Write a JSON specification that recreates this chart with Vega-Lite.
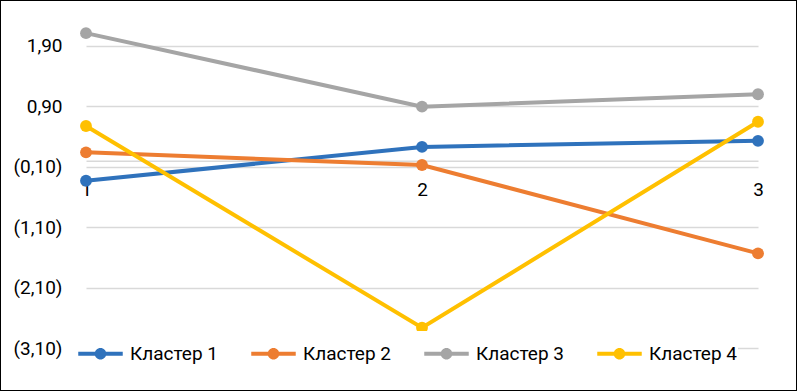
{
  "$schema": "https://vega.github.io/schema/vega-lite/v6.json",
  "width": 797,
  "height": 391,
  "autosize": {"type": "none"},
  "padding": 0,
  "background": "#ffffff",
  "config": {
    "view": {"stroke": "#000000", "strokeWidth": 2},
    "font": "Roboto"
  },
  "data": {
    "values": [
      {"cluster": "Кластер 1", "x": "1", "value": -0.33},
      {"cluster": "Кластер 1", "x": "2", "value": 0.23},
      {"cluster": "Кластер 1", "x": "3", "value": 0.33},
      {"cluster": "Кластер 2", "x": "1", "value": 0.14},
      {"cluster": "Кластер 2", "x": "2", "value": -0.07},
      {"cluster": "Кластер 2", "x": "3", "value": -1.53},
      {"cluster": "Кластер 3", "x": "1", "value": 2.11},
      {"cluster": "Кластер 3", "x": "2", "value": 0.895},
      {"cluster": "Кластер 3", "x": "3", "value": 1.10},
      {"cluster": "Кластер 4", "x": "1", "value": 0.575},
      {"cluster": "Кластер 4", "x": "2", "value": -2.76},
      {"cluster": "Кластер 4", "x": "3", "value": 0.646}
    ]
  },
  "mark": {"type": "line", "strokeWidth": 4, "point": {"size": 140, "filled": true, "opacity": 1}},
  "encoding": {
    "x": {
      "field": "x",
      "type": "ordinal",
      "scale": {"type": "point", "domain": ["1", "2", "3"], "range": [86, 758], "padding": 0},
      "axis": {
        "orient": "bottom",
        "offset": -230.2,
        "title": null,
        "grid": false,
        "ticks": false,
        "domainColor": "#d9d9d9",
        "domainWidth": 1.5,
        "labelFontSize": 19,
        "labelColor": "#000000",
        "labelPadding": 20,
        "labelFont": "Roboto",
        "labelAngle": 0,
        "labelOverlap": false
      }
    },
    "y": {
      "field": "value",
      "type": "quantitative",
      "scale": {"domain": [-3.805, 2.658], "nice": false, "zero": false},
      "axis": {
        "orient": "left",
        "offset": -86,
        "values": [1.9, 0.9, -0.1, -1.1, -2.1, -3.1],
        "labelExpr": "datum.value < 0 ? '(' + replace(format(-datum.value, '.2f'), '.', ',') + ')' : replace(format(datum.value, '.2f'), '.', ',') + '\u2009'",
        "title": null,
        "domain": false,
        "ticks": false,
        "grid": true,
        "gridColor": "#d9d9d9",
        "gridWidth": 1.5,
        "labelFontSize": 19,
        "labelColor": "#000000",
        "labelPadding": 24,
        "labelFont": "Roboto",
        "labelOverlap": false
      }
    },
    "color": {
      "field": "cluster",
      "type": "nominal",
      "scale": {
        "domain": ["Кластер 1", "Кластер 2", "Кластер 3", "Кластер 4"],
        "range": ["#2F72BC", "#ED7D31", "#A5A5A5", "#FFC000"]
      },
      "legend": {
        "title": null,
        "orient": "none",
        "direction": "horizontal",
        "legendX": 78,
        "legendY": 331,
        "symbolType": "M-1,-0.09 L1,-0.09 L1,0.09 L-1,0.09 Z M0.26,0 A0.26,0.26 0 1 1 -0.26,0 A0.26,0.26 0 1 1 0.26,0 Z",
        "symbolSize": 1980,
        "symbolStrokeWidth": 0,
        "symbolOpacity": 1,
        "labelFontSize": 19,
        "labelFont": "Roboto",
        "labelColor": "#000000",
        "labelOffset": 7,
        "columnPadding": 32,
        "fillColor": "#ffffff"
      }
    }
  }
}
